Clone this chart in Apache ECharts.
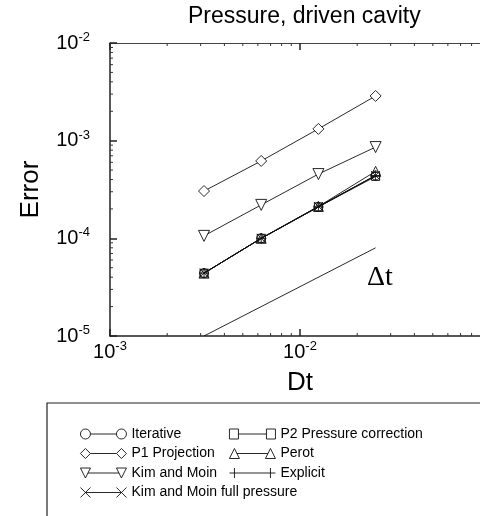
<!DOCTYPE html>
<html><head><meta charset="utf-8">
<script src="https://cdn.jsdelivr.net/npm/echarts@6/dist/echarts.min.js"></script>
<style>html,body{margin:0;padding:0;background:#fff}#c{width:480px;height:516px}</style>
</head><body><div id="c"></div>
<script>
// ---- data ----
const dt = [0.003125, 0.00625, 0.0125, 0.025];
const iterative   = [4.4e-5, 1.0e-4, 2.10e-4, 4.40e-4];
const p2Pressure  = [4.4e-5, 1.0e-4, 2.10e-4, 4.30e-4];
const p1Projection= [3.05e-4, 6.2e-4, 1.32e-3, 2.87e-3];
const perot       = [4.4e-5, 1.0e-4, 2.12e-4, 4.85e-4];
const kimMoin     = [1.06e-4, 2.2e-4, 4.55e-4, 8.6e-4];
const explicitS   = [4.4e-5, 1.0e-4, 2.10e-4, 4.40e-4];
const kimMoinFull = [4.4e-5, 1.0e-4, 2.12e-4, 4.40e-4];
const slopeDt   = [0.003125, 0.025];
const slopeVals = [1e-5, 8e-5];
const xRange = [1e-3, 1e-1];
const yRange = [1e-5, 1e-2];
const xLabelled = [1e-3, 1e-2];
const xMinorTicks = [0.002,0.003,0.004,0.005,0.006,0.007,0.008,0.009,0.02,0.03,0.04,0.05,0.06,0.07,0.08,0.09];
const yMinorTicks = [2e-5,3e-5,4e-5,5e-5,6e-5,7e-5,8e-5,9e-5,2e-4,3e-4,4e-4,5e-4,6e-4,7e-4,8e-4,9e-4,2e-3,3e-3,4e-3,5e-3,6e-3,7e-3,8e-3,9e-3];
const titleText = 'Pressure, driven cavity';
const xName = 'Dt';
const yName = 'Error';
const slopeLabel = 'Δt';

// ---- styles ----
const FONT = '"Liberation Sans", Arial, sans-serif';
const INK = '#111';
const SYM = {
  circle: 'circle',
  rect: 'rect',
  diamond: 'diamond',
  tri: 'path://M0,10L5,0L10,10Z',
  itri: 'path://M0,0L10,0L5,10Z',
  plus: 'path://M5,0L5,10M0,5L10,5',
  cross: 'path://M0,0L10,10M10,0L0,10'
};
const LEG = {
  circle: 'path://M0,5A5,5,0,1,1,10,5A5,5,0,1,1,0,5ZM10,5L36,5M36,5A5,5,0,1,1,46,5A5,5,0,1,1,36,5Z',
  rect: 'path://M0,0H9V10H0ZM9,5L37,5M37,0H46V10H37Z',
  diamond: 'path://M0,5L5,0L10,5L5,10ZM10,5L36,5M36,5L41,0L46,5L41,10Z',
  itri: 'path://M0,0L10,0L5,10ZM7.5,5L38.5,5M36,0L46,0L41,10Z',
  tri: 'path://M0,10L5,0L10,10ZM7.5,5L38.5,5M36,10L41,0L46,10Z',
  plus: 'path://M5,0L5,10M0,5L46,5M41,0L41,10',
  cross: 'path://M0,0L10,10M10,0L0,10M5,5L41,5M36,0L46,10M46,0L36,10'
};

function mk(name, vals, sym, size, fill) {
  return {
    name: name, type: 'line', data: dt.map((d, i) => [d, vals[i]]),
    symbol: SYM[sym], symbolSize: size, showAllSymbol: true,
    lineStyle: { color: INK, width: 0.9 },
    itemStyle: { color: fill, borderColor: INK, borderWidth: 0.9 },
    emphasis: { disabled: true }, z: 3
  };
}
const CLEAR = 'rgba(255,255,255,0)';
const series = [
  mk('Iterative', iterative, 'circle', 9, CLEAR),
  mk('P2 Pressure correction', p2Pressure, 'rect', 8, CLEAR),
  mk('P1 Projection', p1Projection, 'diamond', 11, '#fff'),
  mk('Perot', perot, 'tri', 10, CLEAR),
  mk('Kim and Moin', kimMoin, 'itri', 11, '#fff'),
  mk('Explicit', explicitS, 'plus', 10, CLEAR),
  mk('Kim and Moin full pressure', kimMoinFull, 'cross', 9, CLEAR),
  { name: 'slope', type: 'line', data: slopeDt.map((d, i) => [d, slopeVals[i]]), symbol: 'none',
    lineStyle: { color: INK, width: 0.9 }, emphasis: { disabled: true }, z: 2 },
  { name: 'xminor', type: 'custom', silent: true, clip: false, z: 6,
    data: xMinorTicks.map(v => [v, yRange[0]]),
    renderItem: function (params, api) {
      const v = api.value(0);
      const b = api.coord([v, yRange[0]]), t = api.coord([v, yRange[1]]);
      return { type: 'group', children: [
        { type: 'line', shape: { x1: b[0], y1: b[1], x2: b[0], y2: b[1] - 3 }, style: { stroke: '#333', lineWidth: 1 } },
        { type: 'line', shape: { x1: t[0], y1: t[1], x2: t[0], y2: t[1] + 3 }, style: { stroke: '#333', lineWidth: 1 } }
      ] };
    } },
  { name: 'yminor', type: 'custom', silent: true, clip: false, z: 6,
    data: yMinorTicks.map(v => [xRange[0], v]),
    renderItem: function (params, api) {
      const v = api.value(1);
      const l = api.coord([xRange[0], v]);
      return { type: 'line', shape: { x1: l[0], y1: l[1], x2: l[0] + 3, y2: l[1] }, style: { stroke: '#333', lineWidth: 1 } };
    } }
];

function powLabel(v) {
  const e = Math.round(Math.log10(v));
  return '{b|10}{s|' + (e < 0 ? '-' + (-e) : e) + '}';
}
function xLabel(v) {
  const ok = xLabelled.some(u => Math.abs(Math.log10(u) - Math.log10(v)) < 1e-6);
  return ok ? powLabel(v) : '';
}
const rich = {
  b: { fontSize: 20, lineHeight: 24, fontFamily: FONT, color: '#000' },
  s: { fontSize: 13, lineHeight: 14, verticalAlign: 'top', fontFamily: FONT, color: '#000' }
};
const axisLine = { show: true, lineStyle: { color: '#222', width: 1.5 } };
const legendCommon = {
  orient: 'vertical', itemWidth: 46, itemHeight: 10, itemGap: 1.5, selectedMode: false,
  symbolKeepAspect: false,
  itemStyle: { color: '#fff', borderColor: INK, borderWidth: 0.9 },
  textStyle: { fontSize: 14, lineHeight: 18, fontFamily: FONT, color: '#000' }
};

const chart = echarts.init(document.getElementById('c'), null, { renderer: 'canvas' });
chart.setOption({
  animation: false,
  backgroundColor: '#fff',
  title: { text: titleText, left: 183, top: 0, textStyle: { fontSize: 23, fontWeight: 'normal', fontFamily: FONT, color: '#000' } },
  grid: { left: 110, top: 43, width: 380, height: 293, outerBoundsMode: 'none', containLabel: false },
  xAxis: [
    { type: 'log', logBase: 10, min: xRange[0], max: xRange[1], position: 'bottom',
      name: xName, nameLocation: 'middle', nameGap: 34,
      nameTextStyle: { fontSize: 26, fontFamily: FONT, color: '#000' },
      axisLine: axisLine, axisTick: { inside: true, length: 7, lineStyle: { color: '#222', width: 1.5 } },
      axisLabel: { formatter: xLabel, rich: rich, margin: 4 },
      splitLine: { show: false } },
    { type: 'log', logBase: 10, min: xRange[0], max: xRange[1], position: 'top',
      axisLine: { show: true, lineStyle: { color: '#444', width: 1.2 } },
      axisTick: { inside: true, length: 7, lineStyle: { color: '#222', width: 1.5 } },
      axisLabel: { show: false }, splitLine: { show: false } }
  ],
  yAxis: { type: 'log', logBase: 10, min: yRange[0], max: yRange[1],
    name: yName, nameLocation: 'middle', nameGap: 66, nameRotate: 90,
    nameTextStyle: { fontSize: 26, fontFamily: FONT, color: '#000' },
    axisLine: axisLine, axisTick: { inside: true, length: 7, lineStyle: { color: '#222', width: 1.5 } },
    axisLabel: { formatter: powLabel, rich: rich, margin: 20 },
    splitLine: { show: false } },
  legend: [
    Object.assign({}, legendCommon, { left: 75, top: 420, data: [
      { name: 'Iterative', icon: LEG.circle },
      { name: 'P1 Projection', icon: LEG.diamond },
      { name: 'Kim and Moin', icon: LEG.itri },
      { name: 'Kim and Moin full pressure', icon: LEG.cross } ] }),
    Object.assign({}, legendCommon, { left: 224, top: 420, data: [
      { name: 'P2 Pressure correction', icon: LEG.rect },
      { name: 'Perot', icon: LEG.tri },
      { name: 'Explicit', icon: LEG.plus } ] })
  ],
  graphic: [
    { type: 'rect', shape: { x: 47, y: 403, width: 480, height: 150 }, style: { fill: 'none', stroke: '#222', lineWidth: 1.2 }, silent: true },
    { type: 'text', left: 367, top: 264, style: { text: slopeLabel, font: '28px "Liberation Serif", "Times New Roman", serif', fill: '#000' }, silent: true }
  ],
  series: series
});
</script>
</body></html>
